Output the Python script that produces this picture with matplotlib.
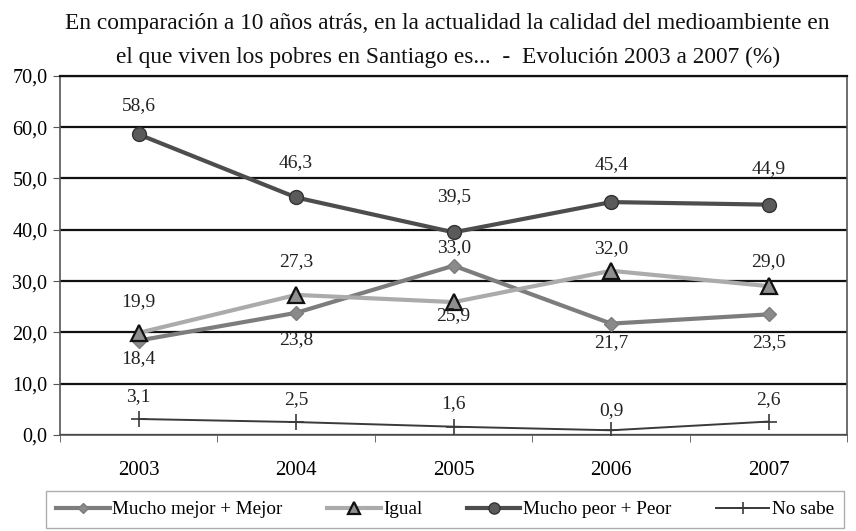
import numpy as np
import matplotlib
matplotlib.use('Agg')
from matplotlib import pyplot as plt

plt.rcParams['font.family'] = ['Liberation Serif', 'DejaVu Serif']

years = ['2003', '2004', '2005', '2006', '2007']
mejor = [18.4, 23.8, 33.0, 21.7, 23.5]
igual = [19.9, 27.3, 25.9, 32.0, 29.0]
peor = [58.6, 46.3, 39.5, 45.4, 44.9]
no_sabe = [3.1, 2.5, 1.6, 0.9, 2.6]

yticks = [0, 10, 20, 30, 40, 50, 60, 70]

title = ('En comparación a 10 años atrás, en la actualidad la calidad del medioambiente en\n'
         'el que viven los pobres en Santiago es...  -  Evolución 2003 a 2007 (%)')

fig = plt.figure(figsize=(8.56, 5.31), dpi=100)
ax = fig.add_axes([0.070, 0.181, 0.920, 0.676])

x = np.arange(len(years))

# label offsets (pixels, + = up) for each point
series = [
    ('Mucho mejor + Mejor', mejor, dict(color='#7d7d7d', marker='D', ms=7, mfc='#8a8a8a', mec='#7d7d7d', lw=3),
     [-18, -27, 18, -19, -28]),
    ('Igual', igual, dict(color='#ababab', marker='^', ms=11, mfc='#8f8f8f', mec='#111111', mew=1.6, lw=3),
     [31, 33, -14, 22, 25]),
    ('Mucho peor + Peor', peor, dict(color='#4d4d4d', marker='o', ms=10, mfc='#5a5a5a', mec='#333333', lw=3),
     [29, 35, 36, 37, 36]),
    ('No sabe', no_sabe, dict(color='#3a3a3a', marker='+', ms=11, mew=1.2, lw=1.4),
     [22, 22, 23, 20, 22]),
]

for name, vals, style, offs in series:
    ax.plot(x, vals, label=name, zorder=3, **style)
    for xi, v, o in zip(x, vals, offs):
        ax.annotate(f'{v:.1f}'.replace('.', ','), (xi, v), xytext=(0, o * 0.72),
                    textcoords='offset points', ha='center', va='center',
                    fontsize=14, color='#222222')

ax.set_xlim(-0.5, len(years) - 0.5)
ax.set_ylim(0, 70)
ax.set_yticks(yticks)
ax.set_yticklabels([f'{t:.1f}'.replace('.', ',') for t in yticks], fontsize=14.5)
ax.yaxis.grid(True, color='#111111', lw=1.6)
ax.set_axisbelow(True)

ax.set_xticks(x)
ax.set_xticklabels(years, fontsize=15)
ax.tick_params(axis='x', which='major', length=0, pad=19)
ax.set_xticks(np.arange(-0.5, len(years)), minor=True)
ax.tick_params(axis='x', which='minor', length=5, color='#555555')
ax.tick_params(axis='y', length=5, color='#555555', pad=4)

for s in ax.spines.values():
    s.set_color('#555555')
    s.set_linewidth(1.2)
ax.spines['top'].set_color('#111111')
ax.spines['top'].set_linewidth(1.6)

fig.text(0.523, 0.975, title, ha='center', va='top', fontsize=16.8,
         linespacing=1.8, color='#111111')

leg = fig.legend(loc='center', bbox_to_anchor=(0.52, 0.040), ncol=4, frameon=True,
                 fontsize=13.8, fancybox=False, edgecolor='#999999',
                 handlelength=2.8, handletextpad=0.15, columnspacing=2.3,
                 borderpad=0.5, borderaxespad=0.2, markerscale=0.8)
leg.get_frame().set_linewidth(1.0)

fig.savefig('out.png', dpi=100)
